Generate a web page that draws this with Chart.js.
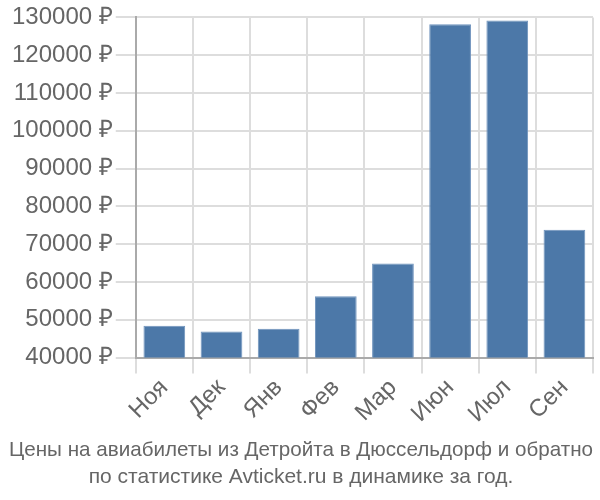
<!DOCTYPE html>
<html>
<head>
<meta charset="utf-8">
<script src="https://cdn.jsdelivr.net/npm/chart.js@4"></script>
<style>
  body { margin: 0; background: #fff; }
  #wrap { width: 600px; height: 500px; }
</style>
</head>
<body>
<div id="wrap"><canvas id="prices"></canvas></div>
<script>
var months = ["Ноя", "Дек", "Янв", "Фев", "Мар", "Июн", "Июл", "Сен"];
var prices = [48400, 46900, 47600, 56200, 64900, 128200, 129200, 73800];

var ctx = document.getElementById("prices");

new Chart(ctx, {
  type: "bar",
  data: {
    labels: months,
    datasets: [
      {
        label: "Цена",
        data: prices,
        backgroundColor: "#4c78a8",
        borderColor: "#6f93bd",
        borderWidth: 1,
        barPercentage: 0.73,
        categoryPercentage: 1
      }
    ]
  },
  options: {
    responsive: true,
    maintainAspectRatio: false,
    animation: false,
    layout: { padding: { top: 0, right: 7, left: 9, bottom: 0 } },
    plugins: {
      legend: { display: false },
      tooltip: { enabled: false },
      title: {
        display: true,
        position: "bottom",
        text: [
          "Цены на авиабилеты из Детройта в Дюссельдорф и обратно",
          "по статистике Avticket.ru в динамике за год."
        ],
        color: "#666",
        font: { family: "'Liberation Sans', Arial, sans-serif", size: 21, weight: "normal", lineHeight: 1.3 },
        padding: { top: 8, bottom: 9 }
      }
    },
    scales: {
      x: {
        grid: { color: "#dddddd", lineWidth: 2, tickLength: 16, offset: true },
        border: { color: "#aaaaaa", width: 2 },
        ticks: {
          color: "#666",
          font: { family: "'Liberation Sans', Arial, sans-serif", size: 24 },
          minRotation: 45,
          maxRotation: 45,
          padding: 0
        }
      },
      y: {
        min: 40000,
        max: 130000,
        grid: { color: "#dddddd", lineWidth: 2, tickLength: 20 },
        border: { color: "#aaaaaa", width: 2 },
        ticks: {
          stepSize: 10000,
          color: "#666",
          padding: 3,
          font: { family: "'Liberation Sans', Arial, sans-serif", size: 24 },
          callback: function (value) { return value + " ₽"; }
        }
      }
    }
  }
});
</script>
</body>
</html>
